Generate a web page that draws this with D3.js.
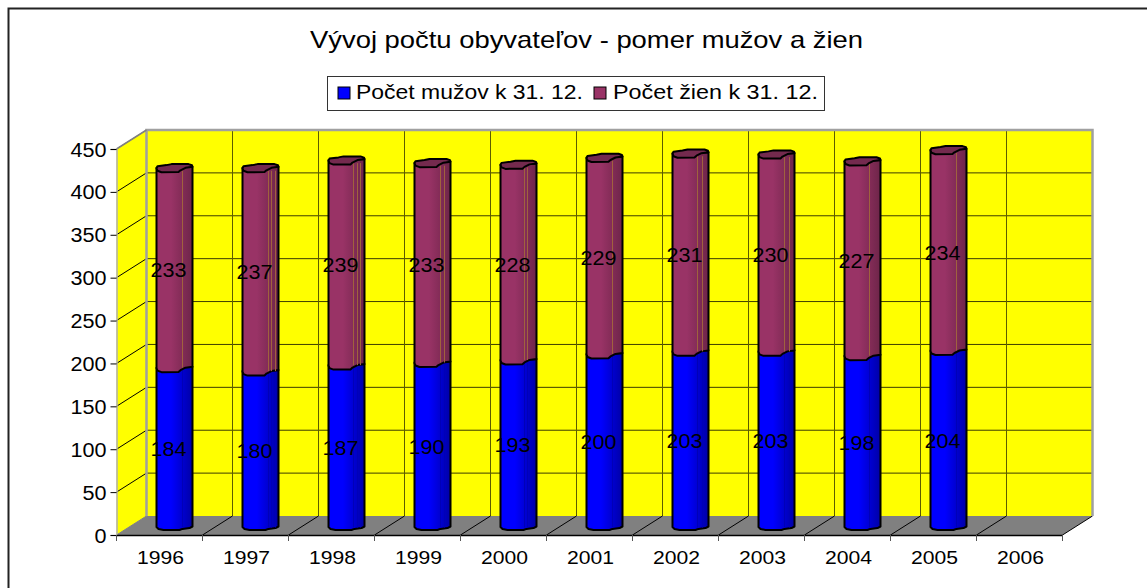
<!DOCTYPE html>
<html><head><meta charset="utf-8">
<script src="https://cdn.jsdelivr.net/npm/d3@7"></script>
<style>html,body{margin:0;padding:0;background:#fff}svg{display:block}text{font-family:"Liberation Sans",Arial,sans-serif;fill:#000}</style>
</head><body><svg id="c" width="1147" height="588"></svg>
<script>
const years = ["1996","1997","1998","1999","2000","2001","2002","2003","2004","2005","2006"];
const men = [184,180,187,190,193,200,203,203,198,204,null];
const women = [233,237,239,233,228,229,231,230,227,234,null];
const yTicks = [0,50,100,150,200,250,300,350,400,450];
const titleText = "Vývoj počtu obyvateľov - pomer mužov a žien";
const seriesNames = ["Počet mužov k 31. 12.","Počet žien k 31. 12."];

const svg = d3.select("#c");
const depthX = 30, depthY = 19;
const x = d3.scaleBand().domain(years).range([146.5,1092.5]).padding(0);
const y = d3.scaleLinear().domain([0,450]).range([516,130]);
const frontX = v => v - depthX, frontY = v => v + depthY;
const midX = v => v - depthX/2, midY = v => v + depthY/2;

const defs = svg.append("defs");
function grad(id,a,b){
  const g = defs.append("linearGradient").attr("id",id);
  g.append("stop").attr("offset","0").attr("stop-color",a);
  g.append("stop").attr("offset","0.4").attr("stop-color",a);
  g.append("stop").attr("offset","1").attr("stop-color",b);
}
grad("gBlue","#0000ff","#0000a6");
grad("gPurple","#993366","#6e2549");

function stretched(sel,len){
  return sel.attr("textLength",len).attr("lengthAdjust","spacingAndGlyphs");
}

// outer border: top and left only
svg.append("path").attr("d","M8.5,588V8.5H1147").attr("fill","none").attr("stroke","#222").attr("stroke-width",2);

// title
stretched(svg.append("text").attr("x",586.5).attr("y",48).attr("text-anchor","middle")
  .style("font-size","24px").text(titleText),553);

// legend
const lg = svg.append("g");
lg.append("rect").attr("x",327.5).attr("y",76.5).attr("width",497).attr("height",34)
  .attr("fill","#fff").attr("stroke","#333");
[["#0000ff",338,356,seriesNames[0],227],["#993366",594,613,seriesNames[1],205]].forEach(d=>{
  lg.append("rect").attr("x",d[1]).attr("y",87).attr("width",12).attr("height",12).attr("fill",d[0]).attr("stroke","#000");
  stretched(lg.append("text").attr("x",d[2]).attr("y",99).style("font-size","20px").text(d[3]),d[4]);
});

// walls
const x0 = x.range()[0], x1 = x.range()[1], yB = y(0), yT = y(450);
const poly = pts => "M"+pts.map(p=>p.join(",")).join("L")+"Z";
svg.append("path").attr("d",poly([[x0,yT],[x1,yT],[x1,yB],[x0,yB]])).attr("fill","#ffff00");
svg.append("path").attr("d",poly([[frontX(x0),frontY(yT)],[x0,yT],[x0,yB],[frontX(x0),frontY(yB)]])).attr("fill","#ffff00");
svg.append("path").attr("d",poly([[x0,yB],[x1,yB],[frontX(x1),frontY(yB)],[frontX(x0),frontY(yB)]])).attr("fill","#808080");

// gridlines
const grid = svg.append("g");
yTicks.filter(t=>t>0&&t<450).forEach(t=>{
  grid.append("line").attr("x1",x0).attr("x2",x1).attr("y1",y(t)).attr("y2",y(t)).attr("stroke","#3c3c00").attr("stroke-width",1);
});
years.slice(1).forEach(c=>{
  grid.append("line").attr("x1",x(c)).attr("x2",x(c)).attr("y1",yT).attr("y2",yB).attr("stroke","#5c5c00").attr("stroke-width",1);
});
yTicks.forEach(t=>{
  grid.append("line").attr("x1",frontX(x0)).attr("y1",frontY(y(t))).attr("x2",x0).attr("y2",y(t))
    .attr("stroke",t===450||t===0?"#808080":"#000").attr("stroke-width",1);
});
years.slice(1).concat(["end"]).forEach(c=>{
  const bx = c==="end"?x1:x(c);
  grid.append("line").attr("x1",frontX(bx)).attr("y1",frontY(yB)).attr("x2",bx).attr("y2",yB).attr("stroke","#000").attr("stroke-width",1);
});
// wall edges
svg.append("path").attr("d",`M${x0},${yB}V${yT}H${x1}V${yB}`).attr("fill","none").attr("stroke","#a0a0a0").attr("stroke-width",2.5);
svg.append("line").attr("x1",x0).attr("y1",yT).attr("x2",frontX(x0)).attr("y2",frontY(yT)).attr("stroke","#808080").attr("stroke-width",1.5);

// axes
const axY = d3.axisLeft(d3.scaleLinear().domain([0,450]).range([frontY(yB),frontY(yT)])).tickValues(yTicks).tickSize(6).tickFormat(d3.format("d"));
const gY = svg.append("g").attr("transform",`translate(${frontX(x0)},0)`).call(axY);
gY.select(".domain").attr("stroke","#b0b0b0").attr("stroke-width",1.5);
gY.selectAll(".tick line").attr("stroke","#000");
gY.selectAll(".tick text").style("font-size","20px").attr("x",-10).attr("y",0).attr("dy","0.35em").attr("lengthAdjust","spacingAndGlyphs");
gY.selectAll(".tick text").each(function(d){ d3.select(this).attr("textLength",String(d).length*12); });

const axX = d3.axisBottom(d3.scaleBand().domain(years).range([frontX(x0),frontX(x1)])).tickSize(0).tickFormat(d=>d);
const gX = svg.append("g").attr("transform",`translate(0,${frontY(yB)})`).call(axX);
gX.select(".domain").attr("stroke","#000").attr("stroke-width",1.5);
gX.selectAll(".tick text").style("font-size","19px").attr("y",22).attr("dy","0.35em").attr("dx",1)
  .attr("textLength",47).attr("lengthAdjust","spacingAndGlyphs");
[...years,"end"].forEach(c=>{
  const bx = frontX(c==="end"?x1:x(c));
  gX.append("line").attr("x1",bx).attr("x2",bx).attr("y1",0).attr("y2",6).attr("stroke","#555");
});

// cylinders
const lidBack = [[-18,0.5],[-17,-1.5],[-8,-2.7],[-3,-3.7],[14,-3.7],[17.5,-2.5],[18,-1]];
const lidFront = [[18,-1],[11,0],[6,2.5],[4,4.3],[-13,4.5],[-17,3],[-18,0.5]];
const baseFront = [[18,1],[15,2.6],[8,3.4],[5,4.5],[-11,4.5],[-16,3.5],[-18,1.5]];
const facets = [[8],[8,11,15],[7,11,14],[8,12],[6,9],[8],[7,12],[8,13],[7],[8]];

const bars = svg.append("g");
years.forEach((c,i)=>{
  if(men[i]==null) return;
  const cx = midX(x(c)+x.bandwidth()/2);
  const yAt = v => midY(y(v));
  const yBase = yAt(0), yMen = yAt(men[i]), yTop = yAt(men[i]+women[i]);
  const at = (arr,yy)=>arr.map(p=>[cx+p[0],yy+p[1]]);
  const g = bars.append("g");
  g.append("path").attr("d",poly([
      [cx-18,yMen],[cx+18,yMen-1],...at(baseFront,yBase)
    ])).attr("fill","url(#gBlue)").attr("stroke","#000").attr("stroke-width",2).attr("stroke-linejoin","round");
  facets[i].forEach(o=>g.append("line").attr("x1",cx+o).attr("x2",cx+o).attr("y1",yMen+2).attr("y2",yBase+2).attr("stroke","#0000b8").attr("stroke-width",1));
  g.append("path").attr("d",poly([
      [cx-18,yTop],[cx+18,yTop-1],...at(lidFront,yMen)
    ])).attr("fill","url(#gPurple)").attr("stroke","#000").attr("stroke-width",2).attr("stroke-linejoin","round");
  facets[i].forEach(o=>g.append("line").attr("x1",cx+o).attr("x2",cx+o).attr("y1",yTop+3).attr("y2",yMen).attr("stroke","#a0623e").attr("stroke-width",1));
  g.append("path").attr("d",poly([...at(lidBack,yTop),...at(lidFront,yTop).slice(1)]))
    .attr("fill","#742a4e").attr("stroke","#000").attr("stroke-width",2).attr("stroke-linejoin","round");
  [[men[i],(yBase+yMen)/2],[women[i],(yMen+yTop)/2]].forEach(d=>{
    stretched(g.append("text").attr("x",cx-6).attr("y",d[1]+2.5).attr("dy","0.35em").attr("text-anchor","middle")
      .style("font-size","20px").text(d[0]),36);
  });
});
</script></body></html>
